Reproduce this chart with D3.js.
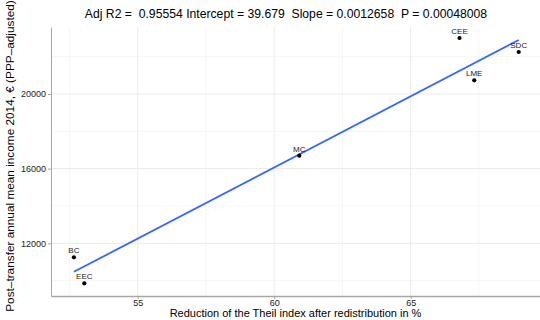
<!DOCTYPE html>
<html lang="en">
<head>
<meta charset="utf-8">
<title>Theil reduction vs income</title>
<script src="https://d3js.org/d3.v7.min.js" charset="utf-8"></script>
<style>
body { margin: 0; background: #fff; }
svg { font-family: "Liberation Sans", Arial, sans-serif; }
.grid-major { stroke: #ebebeb; stroke-width: 1; }
.grid-minor { stroke: #f6f6f6; stroke-width: 1; }
.axis path, .axis line { stroke: #a6a6a6; }
.axis text { fill: #222; font-size: 9px; }
</style>
</head>
<body>
<script type="text/javascript">

// regime clusters and their values
var clusters = ["BC", "EEC", "MC", "CEE", "SDC", "LME"];
var theilReduction = [52.66, 53.04, 60.92, 66.79, 68.96, 67.33];
var meanIncome = [11250, 9858, 16696, 23000, 22249, 20733];

var xTicks = [55, 60, 65];
var yTicks = [12000, 16000, 20000];
var xMinor = [52.5, 57.5, 62.5, 67.5];
var yMinor = [10000, 14000, 18000, 22000];

var title = "Adj R2 =  0.95554 Intercept = 39.679  Slope = 0.0012658  P = 0.00048008";

var width = 540, height = 320;
var margin = {top: 27, right: 0, bottom: 24, left: 51};

var svg = d3.select("body")
            .append("svg")
            .attr("width", width)
            .attr("height", height);

var x = d3.scaleLinear()
    .domain([51.82, 69.74])
    .range([margin.left, width - margin.right]);

var y = d3.scaleLinear()
    .domain([9178, 23588])
    .range([height - margin.bottom, margin.top]);

// grid lines, minor first
svg.selectAll(".gx-minor").data(xMinor).enter().append("line")
  .attr("class", "grid-minor")
  .attr("x1", function(d) { return x(d); }).attr("x2", function(d) { return x(d); })
  .attr("y1", y.range()[0]).attr("y2", y.range()[1]);
svg.selectAll(".gy-minor").data(yMinor).enter().append("line")
  .attr("class", "grid-minor")
  .attr("y1", function(d) { return y(d); }).attr("y2", function(d) { return y(d); })
  .attr("x1", x.range()[0]).attr("x2", x.range()[1]);
svg.selectAll(".gx-major").data(xTicks).enter().append("line")
  .attr("class", "grid-major")
  .attr("x1", function(d) { return x(d); }).attr("x2", function(d) { return x(d); })
  .attr("y1", y.range()[0]).attr("y2", y.range()[1]);
svg.selectAll(".gy-major").data(yTicks).enter().append("line")
  .attr("class", "grid-major")
  .attr("y1", function(d) { return y(d); }).attr("y2", function(d) { return y(d); })
  .attr("x1", x.range()[0]).attr("x2", x.range()[1]);

// axes
svg.append("g")
  .attr("class", "axis")
  .attr("transform", "translate(0," + (height - margin.bottom) + ")")
  .call(d3.axisBottom(x).tickValues(xTicks).tickSize(3).tickSizeOuter(0).tickPadding(1))
  .select(".domain").attr("stroke-width", 1.6);

svg.append("g")
  .attr("class", "axis")
  .attr("transform", "translate(" + margin.left + ",0)")
  .call(d3.axisLeft(y).tickValues(yTicks).tickSize(3).tickSizeOuter(0).tickPadding(2)
        .tickFormat(d3.format("d")));

// least squares fit of income on Theil reduction
var mx = d3.mean(theilReduction), my = d3.mean(meanIncome);
var sxy = d3.sum(theilReduction, function(v, i) { return (v - mx) * (meanIncome[i] - my); });
var sxx = d3.sum(theilReduction, function(v) { return (v - mx) * (v - mx); });
var slope = sxy / sxx, icpt = my - slope * mx;
var xr = d3.extent(theilReduction);

svg.append("path")
  .datum(xr)
  .attr("fill", "none")
  .attr("stroke", "#3366ff")
  .attr("stroke-width", 1.8)
  .attr("d", d3.line()
    .x(function(d) { return x(d); })
    .y(function(d) { return y(icpt + slope * d); }));

// points
svg.selectAll(".pt").data(clusters).enter().append("circle")
  .attr("cx", function(d, i) { return x(theilReduction[i]); })
  .attr("cy", function(d, i) { return y(meanIncome[i]); })
  .attr("r", 2.1)
  .attr("fill", "#000");

svg.selectAll(".lbl").data(clusters).enter().append("text")
  .attr("x", function(d, i) { return x(theilReduction[i]); })
  .attr("y", function(d, i) { return y(meanIncome[i]) - 4; })
  .attr("text-anchor", "middle")
  .attr("font-size", "8px")
  .attr("fill", "#222")
  .text(function(d) { return d; });

// titles
svg.append("text")
  .attr("x", 286).attr("y", 18)
  .attr("text-anchor", "middle")
  .attr("font-size", "12.2px")
  .style("white-space", "pre")
  .attr("xml:space", "preserve")
  .text(title);

svg.append("text")
  .attr("x", (x.range()[0] + x.range()[1]) / 2).attr("y", 317)
  .attr("text-anchor", "middle")
  .attr("font-size", "11px")
  .text("Reduction of the Theil index after redistribution in %");

svg.append("text")
  .attr("transform", "translate(14,156) rotate(-90)")
  .attr("text-anchor", "middle")
  .attr("font-size", "11.8px")
  .text("Post–transfer annual mean income 2014, € (PPP–adjusted)");

</script>
</body>
</html>
